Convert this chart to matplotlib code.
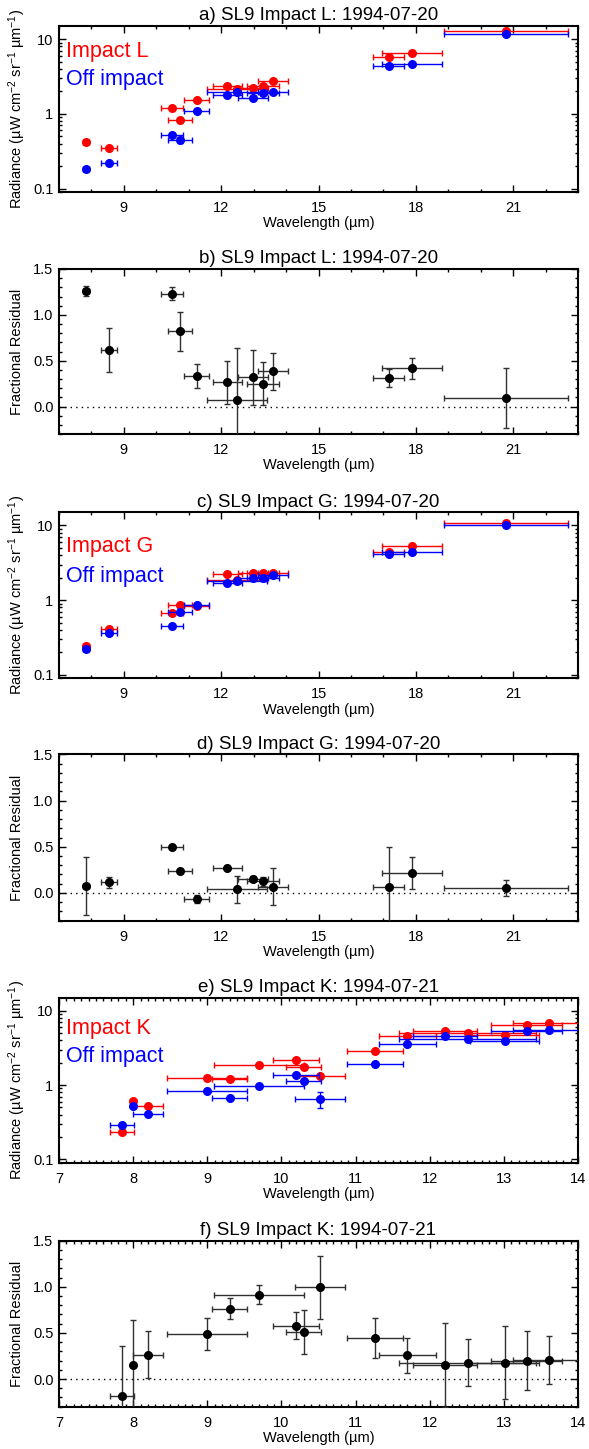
import numpy as np
import matplotlib
matplotlib.use("Agg")
import matplotlib.pyplot as plt
from matplotlib.ticker import MultipleLocator, LogLocator, FuncFormatter, NullFormatter, FixedLocator

plt.rcParams['font.family'] = ['Liberation Sans', 'DejaVu Sans']
plt.rcParams['mathtext.fontset'] = 'custom'
plt.rcParams['mathtext.rm'] = 'Liberation Sans'
plt.rcParams['mathtext.it'] = 'Liberation Sans:italic'
plt.rcParams['mathtext.bf'] = 'Liberation Sans:bold'

# ---------------- data ----------------
# Impacts L and G share the same filter set
wl_LG = [7.83, 8.55, 10.49, 10.72, 11.24, 12.19, 12.49, 12.98, 13.29, 13.59, 17.16, 17.88, 20.78]
dwl_LG = [0.10, 0.24, 0.34, 0.37, 0.38, 0.44, 0.92, 0.46, 0.49, 0.47, 0.47, 0.92, 1.92]

L_impact = [0.417, 0.35, 1.19, 0.83, 1.51, 2.33, 2.17, 2.21, 2.35, 2.77, 5.7, 6.6, 12.9]
L_off = [0.181, 0.218, 0.518, 0.448, 1.10, 1.80, 1.97, 1.64, 1.89, 1.95, 4.37, 4.65, 11.6]
L_off_err = [0.0, 0.01, 0.02, 0.04, 0.0, 0.0, 0.0, 0.0, 0.0, 0.0, 0.0, 0.0, 0.0]
L_res = [1.256, 0.621, 1.231, 0.82, 0.332, 0.264, 0.072, 0.321, 0.249, 0.383, 0.31, 0.415, 0.097]
L_res_err = [0.054, 0.24, 0.072, 0.213, 0.134, 0.236, 0.563, 0.30, 0.233, 0.20, 0.094, 0.115, 0.327]

G_impact = [0.242, 0.417, 0.67, 0.857, 0.83, 2.23, 1.88, 2.28, 2.28, 2.32, 4.35, 5.29, 10.9]
G_off = [0.223, 0.365, 0.449, 0.684, 0.875, 1.72, 1.81, 1.95, 1.99, 2.16, 4.09, 4.35, 10.2]
G_res = [0.076, 0.116, 0.496, 0.243, -0.065, 0.275, 0.04, 0.156, 0.127, 0.069, 0.062, 0.217, 0.054]
G_res_err = [0.317, 0.06, 0.01, 0.02, 0.04, 0.02, 0.145, 0.03, 0.05, 0.196, 0.43, 0.172, 0.085]

# Impact K filters
wl_K = [7.85, 8.00, 8.20, 9.00, 9.30, 9.70, 10.20, 10.30, 10.52, 11.26, 11.70, 12.21, 12.51, 13.01, 13.31, 13.61]
dwl_K = [0.16, 0.02, 0.20, 0.54, 0.23, 0.61, 0.31, 0.24, 0.34, 0.38, 0.38, 0.43, 0.93, 0.47, 0.48, 0.49]
K_impact = [0.234, 0.61, 0.528, 1.23, 1.22, 1.86, 2.17, 1.73, 1.33, 2.86, 4.59, 5.3, 5.09, 4.69, 6.45, 6.87]
K_off = [0.294, 0.528, 0.412, 0.822, 0.676, 0.97, 1.35, 1.13, 0.656, 1.95, 3.59, 4.55, 4.23, 3.89, 5.3, 5.59]
K_off_err = [0.0, 0.0, 0.0, 0.0, 0.0, 0.0, 0.0, 0.0, 0.16, 0.0, 0.0, 0.0, 0.0, 0.0, 0.0, 0.0]
K_res = [-0.188, 0.152, 0.264, 0.493, 0.764, 0.913, 0.58, 0.511, 0.993, 0.442, 0.257, 0.156, 0.178, 0.178, 0.199, 0.21]
K_res_err = [0.547, 0.486, 0.252, 0.174, 0.118, 0.103, 0.15, 0.239, 0.344, 0.216, 0.192, 0.456, 0.257, 0.399, 0.32, 0.261]

titles = ["a) SL9 Impact L: 1994-07-20", "b) SL9 Impact L: 1994-07-20",
          "c) SL9 Impact G: 1994-07-20", "d) SL9 Impact G: 1994-07-20",
          "e) SL9 Impact K: 1994-07-21", "f) SL9 Impact K: 1994-07-21"]
impact_labels = ["Impact L", "Impact G", "Impact K"]

# ---------------- figure ----------------
W, H = 589, 1449
fig = plt.figure(figsize=(W / 100, H / 100), dpi=100)

left_px, right_px = 59, 578
panel_px = [(26, 192), (269, 434), (512.3, 678.3), (754.3, 920.7), (997.7, 1162.7), (1240.7, 1406.7)]

axes = []
for top, bot in panel_px:
    ax = fig.add_axes([left_px / W, 1 - bot / H, (right_px - left_px) / W, (bot - top) / H])
    axes.append(ax)

RED = '#ff0000'
BLUE = '#0000ff'
ylab_rad = 'Radiance (µW cm$^{-2}$ sr$^{-1}$ µm$^{-1}$)'


def style(ax, kind, xkind):
    for s in ax.spines.values():
        s.set_linewidth(1.5)
    ax.tick_params(which='both', direction='in', top=True, right=True, labelsize=10.5, width=1)
    ax.tick_params(which='major', length=5, pad=6.5)
    ax.tick_params(which='minor', length=2.5)
    ax.tick_params(axis='y', which='major', pad=4)
    if xkind == 'LG':
        ax.set_xlim(7, 23)
        ax.xaxis.set_major_locator(FixedLocator([9, 12, 15, 18, 21]))
        ax.xaxis.set_minor_locator(MultipleLocator(1))
    else:
        ax.set_xlim(7, 14)
        ax.xaxis.set_major_locator(MultipleLocator(1))
        ax.xaxis.set_minor_locator(MultipleLocator(0.1))
    ax.set_xlabel('Wavelength (µm)', fontsize=10.5, labelpad=1)
    if kind == 'rad':
        ax.set_yscale('log')
        ax.set_ylim(0.09, 15)
        ax.yaxis.set_major_locator(LogLocator(base=10, numticks=10))
        ax.yaxis.set_minor_locator(LogLocator(base=10, subs=np.arange(2, 10), numticks=10))
        ax.yaxis.set_major_formatter(FuncFormatter(lambda v, p: '%g' % v))
        ax.yaxis.set_minor_formatter(NullFormatter())
        ax.set_ylabel(ylab_rad, fontsize=10.5)
    else:
        ax.set_ylim(-0.3, 1.5)
        ax.yaxis.set_major_locator(MultipleLocator(0.5))
        ax.yaxis.set_minor_locator(MultipleLocator(0.1))
        ax.yaxis.set_major_formatter(FuncFormatter(lambda v, p: '%.1f' % v))
        ax.set_ylabel('Fractional Residual', fontsize=10.5)
        ax.axhline(0, color='black', lw=1, ls=(0, (1, 3)), zorder=1)
    ax.yaxis.label.set_va('center')
    ax.yaxis.set_label_coords(-0.081, 0.5)


def rad_panel(ax, wl, dwl, imp, off, off_err, label, ty):
    ax.errorbar(wl, imp, xerr=dwl, fmt='o', color=RED, ecolor=RED, ms=5.5, elinewidth=1,
                capsize=2, capthick=1, zorder=3)
    ax.errorbar(wl, off, xerr=dwl, yerr=off_err, fmt='o', color=BLUE, ecolor=BLUE, ms=5.5,
                elinewidth=1, capsize=2, capthick=1, zorder=4)
    ax.text(0.0135, ty[0], label, color=RED, fontsize=15.5, transform=ax.transAxes, va='center', ha='left')
    ax.text(0.0135, ty[1], 'Off impact', color=BLUE, fontsize=15.5, transform=ax.transAxes, va='center', ha='left')


def res_panel(ax, wl, dwl, res, res_err):
    ax.errorbar(wl, res, xerr=dwl, yerr=res_err, fmt='o', color='black', ecolor='#303030', ms=5.5,
                elinewidth=1, capsize=2, capthick=1, zorder=3)


rad_panel(axes[0], wl_LG, dwl_LG, L_impact, L_off, L_off_err, impact_labels[0], (0.845, 0.675))
res_panel(axes[1], wl_LG, dwl_LG, L_res, L_res_err)
rad_panel(axes[2], wl_LG, dwl_LG, G_impact, G_off, [0] * len(G_off), impact_labels[1], (0.793, 0.612))
res_panel(axes[3], wl_LG, dwl_LG, G_res, G_res_err)
rad_panel(axes[4], wl_K, dwl_K, K_impact, K_off, K_off_err, impact_labels[2], (0.815, 0.644))
res_panel(axes[5], wl_K, dwl_K, K_res, K_res_err)

kinds = ['rad', 'res', 'rad', 'res', 'rad', 'res']
xkinds = ['LG', 'LG', 'LG', 'LG', 'K', 'K']
for ax, t, k, xk in zip(axes, titles, kinds, xkinds):
    style(ax, k, xk)
    ax.set_title(t, fontsize=13.5, pad=4)

fig.savefig('out.png', dpi=100)
